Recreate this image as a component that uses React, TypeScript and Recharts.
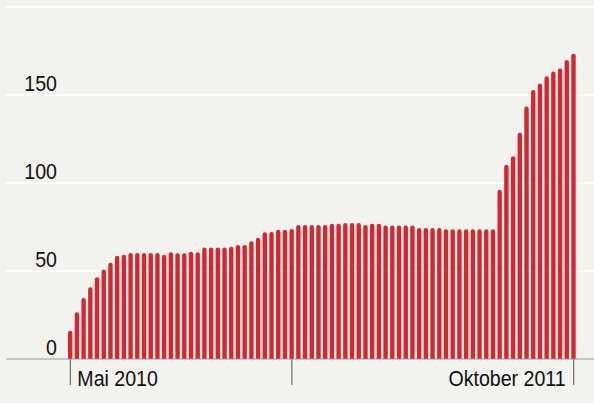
import React from "react";
import { BarChart, Bar, XAxis, YAxis, CartesianGrid } from "recharts";

// Weekly values, May 2010 – October 2011
const values: number[] = [
  16, 26.5, 34.6, 40.7, 46.5, 50.8, 54.7, 58.7, 59.3, 60.2,
  60.2, 60.2, 60.2, 60.2, 59.2, 60.7, 60.1, 60.1, 61, 60.7,
  63.3, 63.3, 63.3, 63.3, 63.8, 64.8, 64.8, 66.9, 68.9, 72,
  72.2, 73.5, 73.5, 73.8, 76.2, 76.2, 76.2, 76.2, 76.2, 76.8,
  76.8, 77.3, 77.3, 77.3, 76.2, 76.9, 76.9, 75.9, 75.9, 75.9,
  75.9, 75.9, 74.4, 74.4, 74.4, 74.4, 73.7, 73.7, 73.7, 73.7,
  73.7, 73.7, 73.7, 73.7, 96.2, 110.4, 115.2, 128.6, 143.4, 152.8,
  156.6, 160.6, 163.3, 165.1, 169.9, 173.5,
];

const yTicks = [0, 50, 100, 150, 200];
const yTickLabels = ["0", "50", "100", "150", ""];
const xTickWeeks = [0, 33, 75];
const xTickLabels = ["Mai 2010", "", "Oktober 2011"];

const data = values.map((v, i) => ({ week: i, value: v }));

const FONT = "'Liberation Sans', Arial, Helvetica, sans-serif";
const SQUEEZE = 0.89;

const YTick = (props: any) => {
  const { y, payload } = props;
  const idx = yTicks.indexOf(Number(payload.value));
  const label = idx >= 0 ? yTickLabels[idx] : "";
  if (!label) return <g />;
  return (
    <g transform={`translate(57, ${y - 4}) scale(${SQUEEZE}, 1)`}>
      <text x={0} y={0} textAnchor="end" fontFamily={FONT} fontSize={22} fill="#111">
        {label}
      </text>
    </g>
  );
};

const XTick = (props: any) => {
  const { x, y, payload } = props;
  const idx = xTickWeeks.indexOf(Number(payload.value));
  const label = idx >= 0 ? xTickLabels[idx] : "";
  const isLast = idx === xTickWeeks.length - 1;
  return (
    <g>
      <line x1={x} x2={x} y1={y} y2={y + 26} stroke="#777" strokeWidth={1.3} />
      {label && (
        <g transform={`translate(${isLast ? x - 8 : x + 7}, ${y + 27}) scale(${SQUEEZE}, 1)`}>
          <text
            x={0}
            y={0}
            textAnchor={isLast ? "end" : "start"}
            fontFamily={FONT}
            fontSize={22}
            fill="#111"
          >
            {label}
          </text>
        </g>
      )}
    </g>
  );
};

export default function App() {
  return (
    <div style={{ position: "fixed", left: 0, top: 0, width: 594, height: 403, background: "#f2f2ee" }}>
      <BarChart
        width={594}
        height={403}
        data={data}
        margin={{ top: 7, right: 0, left: 6, bottom: 0 }}
      >
        <CartesianGrid horizontal vertical={false} stroke="#ffffff" strokeWidth={2} />
        <XAxis
          dataKey="week"
          type="category"
          ticks={xTickWeeks}
          interval={0}
          tickLine={false}
          tickSize={0}
          tickMargin={0}
          axisLine={{ stroke: "#8c8c8c", strokeWidth: 1.2 }}
          height={44}
          padding={{ left: 61, right: 17 }}
          tick={XTick}
        />
        <YAxis
          domain={[0, 200]}
          ticks={yTicks}
          interval={0}
          mirror
          width={60}
          axisLine={false}
          tickLine={false}
          tickSize={0}
          tickMargin={0}
          tick={YTick}
        />
        <Bar
          dataKey="value"
          fill="#d8262f"
          barSize={4.4}
          radius={[2.2, 2.2, 0, 0]}
          isAnimationActive={false}
        />
      </BarChart>
    </div>
  );
}
